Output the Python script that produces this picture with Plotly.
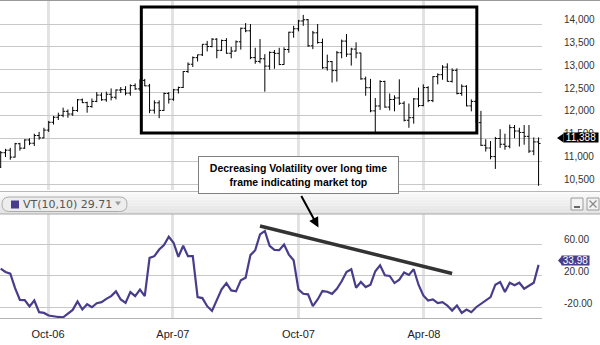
import pandas as pd
import plotly.graph_objects as go

# ---------------------------------------------------------------- data
# Weekly bars (week starting Monday), Jul 2006 - Sep 2008
week_start = pd.date_range("2006-07-24", periods=113, freq="7D")

price_open = [
    10868, 11185, 11240, 11088, 11381, 11284, 11464, 11392, 11560, 11509, 11679, 11850,
    11960, 12002, 12090, 12031, 12108, 12342, 12280, 12194, 12307, 12445, 12343,
    12463, 12398, 12556, 12565, 12487, 12653, 12580, 12767, 12647, 12114, 12276, 12110,
    12481, 12354, 12560, 12612, 12961, 13120, 13264, 13326, 13556, 13507, 13668, 13424,
    13639, 13360, 13408, 13611, 13907, 13851, 13265, 13182, 13239, 13079, 13379, 13358,
    13113, 13442, 13820, 13896, 14066, 14093, 13522, 13807, 13595, 13043, 13177, 12981,
    13372, 13626, 13340, 13451,
    13366, 12800, 12607, 12100, 12207, 12743, 12183, 12349, 12382, 12266, 11894, 11951,
    12361, 12216, 12609, 12325, 12849, 12891, 13058, 12745, 12986, 12480, 12638, 12209,
    12307, 11842, 11347, 11288, 11100, 11496, 11370, 11326, 11734, 11659, 11628, 11543,
    11220, 11421,
]
price_high = [
    11220, 11270, 11290, 11400, 11400, 11480, 11500, 11600, 11640, 11730, 11880, 11990,
    12060, 12170, 12130, 12190, 12360, 12370, 12300, 12370, 12510, 12500, 12520,
    12590, 12570, 12620, 12640, 12680, 12700, 12790, 12800, 12690, 12330, 12330, 12500,
    12510, 12580, 12630, 12970, 13160, 13290, 13330, 13560, 13630, 13690, 13690, 13660,
    13690, 13500, 13640, 13920, 14020, 14000, 13480, 13670, 13340, 13400, 13430, 13480,
    13490, 13830, 13960, 14090, 14200, 14110, 13850, 14000, 13680, 13330, 13190, 13410,
    13660, 13780, 13480, 13600,
    13370, 12850, 12800, 12380, 12770, 12760, 12480, 12440, 12790, 12310, 12260, 12380,
    12610, 12680, 12640, 12860, 12920, 13100, 13140, 13030, 13030, 12680, 12660, 12350,
    12330, 12100, 11480, 11440, 11530, 11700, 11600, 11800, 11790, 11730, 11790, 11790,
    11520, 11520,
]
price_low = [
    10850, 11090, 11030, 11080, 11230, 11270, 11350, 11330, 11470, 11500, 11640, 11800,
    11900, 11960, 11950, 11990, 12080, 12270, 12060, 12170, 12290, 12320, 12300,
    12330, 12350, 12490, 12440, 12430, 12560, 12540, 12640, 12050, 12040, 11940, 12100,
    12260, 12320, 12480, 12600, 12930, 13060, 13180, 13300, 13400, 13490, 13250, 13410,
    13350, 13250, 13400, 13440, 13820, 13230, 13130, 13140, 12520, 13000, 13020, 13100,
    13110, 13370, 13700, 13840, 13960, 13500, 13450, 13570, 13020, 12980, 12720, 12740,
    13250, 13280, 13090, 13250,
    12780, 12430, 12070, 11630, 12120, 12170, 12110, 12090, 12230, 11870, 11730, 11820,
    12180, 12200, 12290, 12290, 12680, 12780, 12740, 12720, 12460, 12430, 12200, 12090,
    11830, 11330, 11210, 11040, 10830, 11290, 11250, 11280, 11500, 11320, 11360, 11180,
    11130, 10460,
]
price_close = [
    11185, 11240, 11088, 11381, 11284, 11464, 11392, 11560, 11509, 11679, 11850, 11960,
    12002, 12090, 12031, 12108, 12342, 12280, 12194, 12307, 12445, 12343, 12463,
    12398, 12556, 12565, 12487, 12653, 12580, 12767, 12647, 12114, 12276, 12110, 12481,
    12354, 12560, 12612, 12961, 13120, 13264, 13326, 13556, 13507, 13668, 13424, 13639,
    13360, 13408, 13611, 13907, 13851, 13265, 13182, 13239, 13079, 13379, 13358, 13113,
    13442, 13820, 13896, 14066, 14093, 13522, 13807, 13595, 13043, 13177, 12981, 13372,
    13626, 13340, 13451, 13366,
    12800, 12607, 12100, 12207, 12743, 12183, 12349, 12382, 12266, 11894, 11951, 12361,
    12216, 12609, 12325, 12849, 12891, 13058, 12745, 12986, 12480, 12638, 12209, 12307,
    11842, 11347, 11288, 11100, 11496, 11370, 11326, 11734, 11659, 11628, 11543, 11220,
    11421, 11388,
]

# Volatility indicator VT(10,10)
vt_values = [
    29.3, 25.1, 22.9, 4.8, -10.1, -10.5, -18.5, -10.9, -25.7, -26.6,
    -29.9, -31.2, -31.7, -32.1, -27.0, -22.8, -12.1, -22.3, -15.6, -19.4,
    -14.3, -13.0, -8.8, -5.4, 0.6, -9.6, -13.9, -0.3, -5.4, 2.9,
    -5.4, 42.9, 45.0, 53.4, 59.0, 69.5, 61.9, 44.1, 58.1, 45.0,
    45.0, -6.7, -7.9, -18.1, -24.1, -9.6, 3.1, 11.1, 1.8, 0.6,
    14.5, 17.8, 46.3, 52.6, 72.4, 76.8, 58.1, 53.0, 52.6, 59.7,
    47.0, 39.9, 3.1, -2.5, -3.2, -18.1, -9.6, 1.0, 0.1, -2.5,
    3.9, 13.3, 25.1, 28.5, 5.1, 12.4, 6.0, 9.0, 26.0, 33.6,
    20.9, 20.0, 11.1, 15.3, 24.4, 21.3, 28.5, 9.0, -4.5, -10.9,
    -9.6, -14.3, -13.0, -17.2, -23.6, -17.2, -26.6, -22.3, -25.7, -19.4,
    -15.2, -11.7, -6.7, 9.0, 12.4, -0.3, 11.5, 8.2, 11.5, 3.9,
    7.3, 11.5, 33.98,
]
vt_legend_value = 29.71

price_ticks = [10500, 11000, 11500, 12000, 12500, 13000, 13500, 14000]
vt_ticks = [60, 20, -20]

# annotated regions
top_box_dates = ["2007-02-14", "2008-06-17"]
top_box_levels = [11616, 14372]
trend_dates = ["2007-08-06", "2008-05-12"]
trend_levels = [83.1, 23.2]
note_text = "<b>Decreasing Volatility over long time<br>frame indicating market top</b>"

# ---------------------------------------------------------------- layout helpers
W, H = 600, 345
M_L, M_R, M_T, M_B = 0, 58, 0, 27
PW, PH = W - M_L - M_R, H - M_T - M_B
x_range = ["2006-07-23", "2008-09-20"]


def xp(px):
    return (px - M_L) / PW


def yp(py):
    return (M_T + PH - py) / PH


def path_px(cmds):
    out = []
    for c in cmds:
        if c == "Z":
            out.append("Z")
            continue
        op, pts = c[0], c[1:]
        coords = " ".join(f"{xp(x):.5f},{yp(y):.5f}" for x, y in pts)
        out.append(f"{op}{coords}")
    return " ".join(out)


LINE_PURPLE = "#483D8B"
GRID_H = "#c8c8c8"
GRID_V = "#e3e3e3"
TXT = "#333333"
FONT = "Liberation Sans, Arial, sans-serif"

fig = go.Figure()

fig.add_trace(go.Ohlc(
    x=week_start, open=price_open, high=price_high, low=price_low, close=price_close,
    xaxis="x", yaxis="y",
    increasing=dict(line=dict(color="black", width=1)),
    decreasing=dict(line=dict(color="black", width=1)),
    tickwidth=0.42, hoverinfo="skip",
))
fig.add_trace(go.Scatter(
    x=week_start, y=vt_values, xaxis="x2", yaxis="y2", mode="lines",
    line=dict(color=LINE_PURPLE, width=2.2), hoverinfo="skip",
))

top_dom = [yp(190), 1]
bot_dom = [0, yp(214)]

common_x = dict(range=x_range, tick0="2006-10-01", dtick="M6", showgrid=True,
                gridcolor=GRID_V, gridwidth=2.5, zeroline=False, ticks="")

fig.update_layout(
    width=W, height=H, margin=dict(l=M_L, r=M_R, t=M_T, b=M_B),
    paper_bgcolor="white", plot_bgcolor="white", showlegend=False,
    font=dict(family=FONT, size=11, color=TXT),
    xaxis=dict(common_x, domain=[0, 1], anchor="y", showticklabels=False,
               rangeslider=dict(visible=False)),
    yaxis=dict(domain=top_dom, range=[10369, 14525], side="right", tickvals=price_ticks,
               showticklabels=False, showgrid=True, gridcolor=GRID_H, gridwidth=1,
               zeroline=False, ticks=""),
    xaxis2=dict(common_x, domain=[0, 1], anchor="y2", tickformat="%b-%y",
                showline=True, linecolor="#b4b4b4", linewidth=1,
                tickfont=dict(family=FONT, size=11, color="#222222"),
                ticklabelstandoff=6),
    yaxis2=dict(domain=bot_dom, range=[-33.0, 98.2], side="right", tickvals=vt_ticks,
                showticklabels=False, showgrid=True, gridcolor=GRID_H, gridwidth=1,
                zeroline=False, ticks=""),
)

shapes = []
annotations = []

# frame line across the top
shapes.append(dict(type="line", xref="paper", yref="paper", x0=xp(0), x1=xp(W),
                   y0=yp(0.5), y1=yp(0.5), line=dict(color="#9a9a9a", width=1)))

# indicator header band (soft vertical gradient)
band_top, band_bot = 191, 214
n_strips = 8
c_top, c_bot = 0xfb, 0xe2
for i in range(n_strips):
    t = i / (n_strips - 1)
    g = round(c_top + (c_bot - c_top) * t)
    y0 = band_top + (band_bot - band_top) * i / n_strips
    y1 = band_top + (band_bot - band_top) * (i + 1) / n_strips
    shapes.append(dict(type="rect", xref="paper", yref="paper", x0=xp(0), x1=xp(W),
                       y0=yp(y1), y1=yp(y0), fillcolor=f"rgb({g},{g},{g})",
                       line=dict(width=0), layer="above"))
for yy, col in [(band_top + 0.5, "#b8b8b8"), (band_bot, "#a8a8a8")]:
    shapes.append(dict(type="line", xref="paper", yref="paper", x0=xp(0), x1=xp(W),
                       y0=yp(yy), y1=yp(yy), line=dict(color=col, width=1), layer="above"))

# legend pill
px0, px1, py0, py1, r = 2, 127, 197, 211.5, 7.25
pill = path_px([
    ("M", (px0 + r, py0)), ("L", (px1 - r, py0)), ("Q", (px1, py0), (px1, py0 + r)),
    ("Q", (px1, py1), (px1 - r, py1)), ("L", (px0 + r, py1)), ("Q", (px0, py1), (px0, py1 - r)),
    ("Q", (px0, py0), (px0 + r, py0)), "Z",
])
shapes.append(dict(type="path", xref="paper", yref="paper", path=pill,
                   fillcolor="#ededed", line=dict(color="#acacac", width=1), layer="above"))
shapes.append(dict(type="rect", xref="paper", yref="paper", x0=xp(11), x1=xp(19),
                   y0=yp(208.5), y1=yp(200.5), fillcolor=LINE_PURPLE,
                   line=dict(width=0), layer="above"))
shapes.append(dict(type="path", xref="paper", yref="paper", layer="above",
                   path=path_px([("M", (115, 201.5)), ("L", (121, 201.5)), ("L", (118, 205.5)), "Z"]),
                   fillcolor="#9a9a9a", line=dict(width=0)))
annotations.append(dict(xref="paper", yref="paper", x=xp(21), y=yp(204.5), xanchor="left",
                        yanchor="middle", showarrow=False,
                        text=f"VT(10,10) {vt_legend_value:.2f}",
                        font=dict(family="DejaVu Sans", size=11, color="#555555")))

# minimise / close buttons
for bx in (571, 587):
    shapes.append(dict(type="rect", xref="paper", yref="paper", x0=xp(bx), x1=xp(bx + 12),
                       y0=yp(210), y1=yp(198), fillcolor="#f3f3f3",
                       line=dict(color="#9c9c9c", width=1), layer="above"))
shapes.append(dict(type="line", xref="paper", yref="paper", x0=xp(574), x1=xp(580),
                   y0=yp(207), y1=yp(207), line=dict(color="#666666", width=2), layer="above"))
for a, b in [((589.5, 200.5), (596.5, 207.5)), ((596.5, 200.5), (589.5, 207.5))]:
    shapes.append(dict(type="line", xref="paper", yref="paper", x0=xp(a[0]), x1=xp(b[0]),
                       y0=yp(a[1]), y1=yp(b[1]), line=dict(color="#8a8a8a", width=1.3),
                       layer="above"))

# rectangle around the topping region
shapes.append(dict(type="rect", xref="x", yref="y", x0=top_box_dates[0], x1=top_box_dates[1],
                   y0=top_box_levels[0], y1=top_box_levels[1],
                   line=dict(color="black", width=3), layer="above"))

# declining volatility trend line
shapes.append(dict(type="line", xref="x2", yref="y2", x0=trend_dates[0], x1=trend_dates[1],
                   y0=trend_levels[0], y1=trend_levels[1],
                   line=dict(color="#333333", width=3.5), layer="above"))

# right-hand value labels
label_shift = 4.5
for v in price_ticks:
    annotations.append(dict(xref="paper", yref="y", x=1, y=v, xshift=20, yshift=label_shift,
                            xanchor="left", yanchor="middle", showarrow=False,
                            text=f"{v:,}", font=dict(family=FONT, size=10, color=TXT)))
for v in vt_ticks:
    annotations.append(dict(xref="paper", yref="y2", x=1, y=v, xshift=20, yshift=label_shift,
                            xanchor="left", yanchor="middle", showarrow=False,
                            text=f"{v:.2f}", font=dict(family=FONT, size=10, color=TXT)))

# last-value flags
last_close = price_close[-1]
last_vt = vt_values[-1]
flag_shift = 5.5
shapes.append(dict(type="path", xref="paper", yref="y", xsizemode="pixel", ysizemode="pixel",
                   xanchor=1, yanchor=last_close, layer="above",
                   path=f"M15,{flag_shift} L21.5,{flag_shift + 4.5} L21.5,{flag_shift - 4.5} Z",
                   fillcolor="black", line=dict(width=0)))
annotations.append(dict(xref="paper", yref="y", x=1, y=last_close, xshift=38.5, yshift=flag_shift,
                        xanchor="center", yanchor="middle", showarrow=False,
                        text=f"{last_close:,}", bgcolor="black", width=34, height=9,
                        borderpad=0, font=dict(family=FONT, size=10, color="white")))
vt_shift = 4.5
shapes.append(dict(type="path", xref="paper", yref="y2", xsizemode="pixel", ysizemode="pixel",
                   xanchor=1, yanchor=last_vt, layer="above",
                   path=f"M16,{vt_shift} L20,{vt_shift + 4.5} L20,{vt_shift - 4.5} Z",
                   fillcolor=LINE_PURPLE, line=dict(width=0)))
annotations.append(dict(xref="paper", yref="y2", x=1, y=last_vt, xshift=33.5, yshift=vt_shift,
                        xanchor="center", yanchor="middle", showarrow=False,
                        text=f"{last_vt:.2f}", bgcolor=LINE_PURPLE, width=27, height=9,
                        borderpad=0, font=dict(family=FONT, size=10, color="white")))

# callout: arrow first, then the note box over its tail
annotations.append(dict(xref="paper", yref="paper", x=xp(318.5), y=yp(227.5), text="",
                        showarrow=True, ax=-18, ay=-33, arrowhead=2, arrowsize=1,
                        arrowwidth=2, arrowcolor="black"))
annotations.append(dict(xref="paper", yref="paper", x=xp(298.8), y=yp(175), text=note_text,
                        showarrow=False, xanchor="center", yanchor="middle",
                        width=199, height=36, bgcolor="white", bordercolor="#808080",
                        borderwidth=1, borderpad=0, align="center",
                        font=dict(family=FONT, size=10.5, color="black")))

fig.update_layout(shapes=shapes, annotations=annotations)
fig.write_html("out.html")
